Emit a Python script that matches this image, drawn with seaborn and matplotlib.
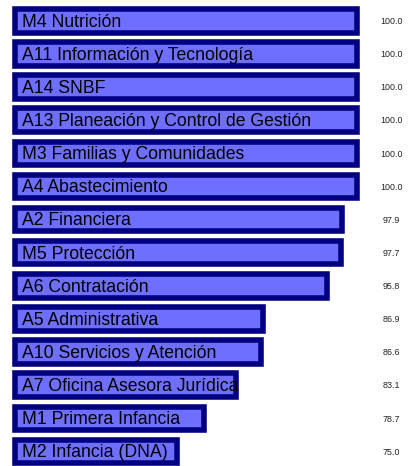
import matplotlib
matplotlib.use("Agg")
import matplotlib.pyplot as plt
import seaborn as sns
import numpy as np

# datos (orden tal como aparece en la figura)
areas = [
    "M4 Nutrición",
    "A11 Información y Tecnología",
    "A14 SNBF",
    "A13 Planeación y Control de Gestión",
    "M3 Familias y Comunidades",
    "A4 Abastecimiento",
    "A2 Financiera",
    "M5 Protección",
    "A6 Contratación",
    "A5 Administrativa",
    "A10 Servicios y Atención",
    "A7 Oficina Asesora Jurídica",
    "M1 Primera Infancia",
    "M2 Infancia (DNA)",
]
cumplimiento = [100.0, 100.0, 100.0, 100.0, 100.0, 100.0, 97.9, 97.7, 95.8, 86.9, 86.6, 83.1, 78.7, 75.0]

BASE = 52.5          # las barras arrancan aquí, no en cero
X_VALOR = 104.75     # columna de los valores a la derecha

sns.set_style("white")
plt.rcParams["font.family"] = ["Liberation Sans", "DejaVu Sans"]

fig = plt.figure(figsize=(4.1, 4.66), dpi=100)
ax = fig.add_axes([0, 0, 1, 1])

sns.barplot(x=cumplimiento, y=areas, orient="h", color="#6f6fff",
            edgecolor="#000080", linewidth=4, width=0.71,
            saturation=1, ax=ax)

# recortar las barras para que empiecen en BASE
for p, v in zip(ax.patches, cumplimiento):
    p.set_x(BASE)
    p.set_width(v - BASE)
    p.set_facecolor("#6f6fff")

for i, (nombre, v) in enumerate(zip(areas, cumplimiento)):
    ax.text(BASE + 0.95, i + 0.18, nombre, va="baseline", ha="left", fontsize=12.7, color="black")
    ax.text(X_VALOR, i + 0.1, f"{v:.1f}", va="baseline", ha="center", fontsize=6.4, color="#222222")

ax.set_xlim(50.42, 107.3)
ax.set_ylim(13.44, -0.627)
ax.axis("off")

plt.savefig("out.png", dpi=100)
